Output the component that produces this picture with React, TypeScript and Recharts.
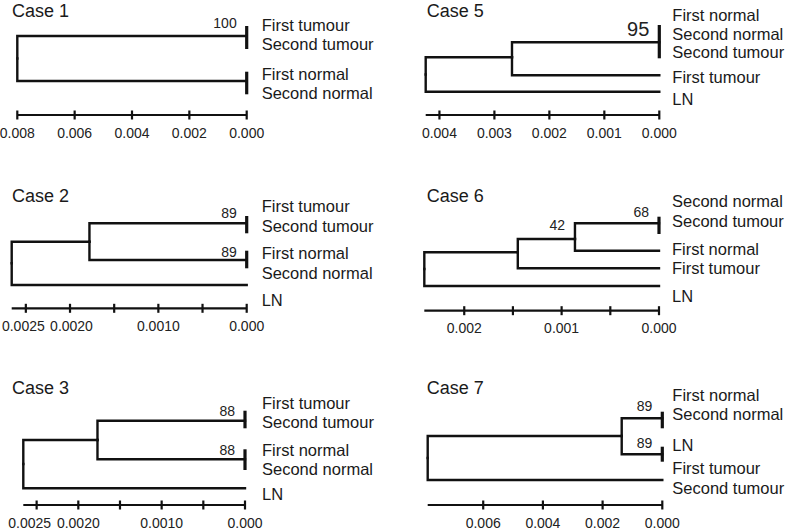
import React from 'react';
import { ComposedChart, Line, Scatter, XAxis, YAxis } from 'recharts';

type TreeNode = { id: string; parent?: string; depth: number; y: number; bar?: [number, number] };
type Leaf = { name: string; y: number };
type Support = { value: string; depth: number; y: number };

// ---------- Case 1 ----------
const case1Nodes: TreeNode[] = [
  { id: 'root', depth: 0.008, y: 58.5 },
  { id: 'tumour', parent: 'root', depth: 0, y: 36, bar: [26, 49] },
  { id: 'normal', parent: 'root', depth: 0, y: 81, bar: [71.7, 94.3] },
];
const case1Leaves: Leaf[] = [
  { name: 'First tumour', y: 25 },
  { name: 'Second tumour', y: 44.3 },
  { name: 'First normal', y: 74 },
  { name: 'Second normal', y: 93.3 },
];
const case1Support: Support[] = [{ value: '100', depth: 0, y: 23.3 }];
const case1Extent = 0.008;
const case1Ticks = [0.008, 0.006, 0.004, 0.002, 0];
const case1TickLabels = ['0.008', '0.006', '0.004', '0.002', '0.000'];

// ---------- Case 2 ----------
const case2Nodes: TreeNode[] = [
  { id: 'root', depth: 0.00266, y: 83.3 },
  { id: 'inner', parent: 'root', depth: 0.00178, y: 61.7 },
  { id: 'tumour', parent: 'inner', depth: 0, y: 43.3, bar: [36, 53.3] },
  { id: 'normal', parent: 'inner', depth: 0, y: 80, bar: [70.7, 88.3] },
  { id: 'ln', parent: 'root', depth: 0, y: 105 },
];
const case2Leaves: Leaf[] = [
  { name: 'First tumour', y: 26.7 },
  { name: 'Second tumour', y: 46.7 },
  { name: 'First normal', y: 73.3 },
  { name: 'Second normal', y: 93.3 },
  { name: 'LN', y: 120 },
];
const case2Support: Support[] = [
  { value: '89', depth: 0, y: 33.3 },
  { value: '89', depth: 0, y: 71.7 },
];
const case2Extent = 0.00266;
const case2Ticks = [0.0025, 0.002, 0.0015, 0.001, 0.0005, 0];
const case2TickLabels = ['0.0025', '0.0020', '', '0.0010', '', '0.000'];

// ---------- Case 3 ----------
const case3Nodes: TreeNode[] = [
  { id: 'root', depth: 0.00266, y: 104 },
  { id: 'inner', parent: 'root', depth: 0.00177, y: 80 },
  { id: 'tumour', parent: 'inner', depth: 0, y: 60.7, bar: [50.7, 68.3] },
  { id: 'normal', parent: 'inner', depth: 0, y: 99.3, bar: [89.3, 110] },
  { id: 'ln', parent: 'root', depth: 0, y: 128.3 },
];
const case3Leaves: Leaf[] = [
  { name: 'First tumour', y: 43.3 },
  { name: 'Second tumour', y: 62.7 },
  { name: 'First normal', y: 90.7 },
  { name: 'Second normal', y: 109.3 },
  { name: 'LN', y: 134 },
];
const case3Support: Support[] = [
  { value: '88', depth: 0, y: 50.7 },
  { value: '88', depth: 0, y: 90 },
];
const case3Extent = 0.00266;
const case3Ticks = [0.0025, 0.002, 0.0015, 0.001, 0.0005, 0];
const case3TickLabels = ['0.0025', '0.0020', '', '0.0010', '', '0.000'];

// ---------- Case 5 ----------
const case5Nodes: TreeNode[] = [
  { id: 'root', depth: 0.00425, y: 74.5 },
  { id: 'inner', parent: 'root', depth: 0.00268, y: 57.3 },
  { id: 'cluster', parent: 'inner', depth: 0, y: 42.3, bar: [25, 58.3] },
  { id: 'firstTumour', parent: 'inner', depth: 0, y: 75.3 },
  { id: 'ln', parent: 'root', depth: 0, y: 91.7 },
];
const case5Leaves: Leaf[] = [
  { name: 'First normal', y: 15 },
  { name: 'Second normal', y: 34 },
  { name: 'Second tumour', y: 52.7 },
  { name: 'First tumour', y: 77.3 },
  { name: 'LN', y: 99.3 },
];
const case5Support: Support[] = [{ value: '95', depth: 0, y: 29 }];
const case5Extent = 0.00425;
const case5Ticks = [0.004, 0.003, 0.002, 0.001, 0];
const case5TickLabels = ['0.004', '0.003', '0.002', '0.001', '0.000'];

// ---------- Case 6 ----------
const case6Nodes: TreeNode[] = [
  { id: 'root', depth: 0.00241, y: 89 },
  { id: 'a', parent: 'root', depth: 0.00145, y: 72.3 },
  { id: 'b', parent: 'a', depth: 0.000863, y: 59 },
  { id: 'cluster', parent: 'b', depth: 0, y: 43.3, bar: [36.7, 54] },
  { id: 'firstNormal', parent: 'b', depth: 0, y: 70.7 },
  { id: 'firstTumour', parent: 'a', depth: 0, y: 88.3 },
  { id: 'ln', parent: 'root', depth: 0, y: 106 },
];
const case6Leaves: Leaf[] = [
  { name: 'Second normal', y: 21.7 },
  { name: 'Second tumour', y: 41.7 },
  { name: 'First normal', y: 69.3 },
  { name: 'First tumour', y: 88.3 },
  { name: 'LN', y: 116.7 },
];
const case6Support: Support[] = [
  { value: '68', depth: 0, y: 32.3 },
  { value: '42', depth: 0.000863, y: 45 },
];
const case6Extent = 0.00241;
const case6Ticks = [0.002, 0.0015, 0.001, 0.0005, 0];
const case6TickLabels = ['0.002', '', '0.001', '', '0.000'];

// ---------- Case 7 ----------
const case7Nodes: TreeNode[] = [
  { id: 'root', depth: 0.00786, y: 98 },
  { id: 'inner', parent: 'root', depth: 0.00136, y: 76 },
  { id: 'normal', parent: 'inner', depth: 0, y: 58.3, bar: [51.7, 68.3] },
  { id: 'lnCluster', parent: 'inner', depth: 0, y: 94.3, bar: [86.7, 101.7] },
  { id: 'tumour', parent: 'root', depth: 0, y: 120 },
];
const case7Leaves: Leaf[] = [
  { name: 'First normal', y: 35 },
  { name: 'Second normal', y: 54.3 },
  { name: 'LN', y: 85 },
  { name: 'First tumour', y: 108.3 },
  { name: 'Second tumour', y: 128.3 },
];
const case7Support: Support[] = [
  { value: '89', depth: 0, y: 45.7 },
  { value: '89', depth: 0, y: 83.3 },
];
const case7Extent = 0.00786;
const case7Ticks = [0.006, 0.004, 0.002, 0];
const case7TickLabels = ['0.006', '0.004', '0.002', '0.000'];

// ---------- layout (pixels) ----------
const FONT = '"Liberation Sans", Arial, Helvetica, sans-serif';
const INK = '#111';

type Layout = {
  left: number; top: number; plotLeft: number; plotRight: number; axisY: number;
  labelGap: number; titleX: number; titleY: number; supportSize: number; tickShift: number[];
};

const PANELS: {
  title: string; nodes: TreeNode[]; leaves: Leaf[]; support: Support[];
  extent: number; ticks: number[]; tickLabels: string[]; layout: Layout;
}[] = [
  { title: 'Case 1', nodes: case1Nodes, leaves: case1Leaves, support: case1Support, extent: case1Extent, ticks: case1Ticks, tickLabels: case1TickLabels,
    layout: { left: 0, top: 0, plotLeft: 17.3, plotRight: 246.7, axisY: 115, labelGap: 15, titleX: 12, titleY: 16.7, supportSize: 14, tickShift: [] } },
  { title: 'Case 2', nodes: case2Nodes, leaves: case2Leaves, support: case2Support, extent: case2Extent, ticks: case2Ticks, tickLabels: case2TickLabels,
    layout: { left: 0, top: 180, plotLeft: 11.7, plotRight: 246.7, axisY: 308.3, labelGap: 15, titleX: 12, titleY: 201.7, supportSize: 14, tickShift: [-2.5, 1.5] } },
  { title: 'Case 3', nodes: case3Nodes, leaves: case3Leaves, support: case3Support, extent: case3Extent, ticks: case3Ticks, tickLabels: case3TickLabels,
    layout: { left: 0, top: 360, plotLeft: 23.3, plotRight: 245, axisY: 505, labelGap: 17, titleX: 12, titleY: 394.3, supportSize: 14, tickShift: [-7, 0] } },
  { title: 'Case 5', nodes: case5Nodes, leaves: case5Leaves, support: case5Support, extent: case5Extent, ticks: case5Ticks, tickLabels: case5TickLabels,
    layout: { left: 395, top: 0, plotLeft: 425.7, plotRight: 659.3, axisY: 115, labelGap: 13, titleX: 426.7, titleY: 16.7, supportSize: 20, tickShift: [] } },
  { title: 'Case 6', nodes: case6Nodes, leaves: case6Leaves, support: case6Support, extent: case6Extent, ticks: case6Ticks, tickLabels: case6TickLabels,
    layout: { left: 395, top: 180, plotLeft: 424.3, plotRight: 659, axisY: 310.7, labelGap: 13, titleX: 426.7, titleY: 201.7, supportSize: 14, tickShift: [] } },
  { title: 'Case 7', nodes: case7Nodes, leaves: case7Leaves, support: case7Support, extent: case7Extent, ticks: case7Ticks, tickLabels: case7TickLabels,
    layout: { left: 395, top: 360, plotLeft: 427.7, plotRight: 662.3, axisY: 505, labelGap: 10, titleX: 426.7, titleY: 394.3, supportSize: 14, tickShift: [] } },
];

const CHART_W = 390;
const AXIS_H = 26;

function TreePanel(props: (typeof PANELS)[number]) {
  const { nodes, leaves, support, extent, ticks, tickLabels, layout } = props;
  const byId: Record<string, TreeNode> = {};
  nodes.forEach((n) => { byId[n.id] = n; });

  const branches = nodes
    .filter((n) => n.parent)
    .map((n) => {
      const p = byId[n.parent as string];
      return {
        key: 'br-' + n.id,
        points: [
          { x: p.depth, y: p.y },
          { x: p.depth, y: n.y },
          { x: n.depth, y: n.y },
        ],
      };
    });
  const bars = nodes
    .filter((n) => n.bar)
    .map((n) => ({
      key: 'bar-' + n.id,
      points: [
        { x: n.depth, y: (n.bar as [number, number])[0] },
        { x: n.depth, y: (n.bar as [number, number])[1] },
      ],
    }));

  const plotH = layout.axisY - layout.top;
  const leafData = leaves.map((l) => ({ x: 0, y: l.y, name: l.name }));
  const supportData = support.map((s) => ({ x: s.depth, y: s.y, name: s.value }));

  const renderTick = (p: any) => {
    const v = p.payload ? p.payload.value : 0;
    const idx = ticks.findIndex((t) => Math.abs(t - v) < 1e-12);
    const label = idx >= 0 ? tickLabels[idx] : '';
    const shift = idx >= 0 && layout.tickShift[idx] ? layout.tickShift[idx] : 0;
    return (
      <g>
        <line x1={p.x} x2={p.x} y1={p.y - 4.5} y2={p.y + 4.5} stroke={INK} strokeWidth={2.2} />
        {label ? (
          <text x={p.x + shift} y={p.y + 22.5} textAnchor="middle" fontSize={14} fontFamily={FONT} fill="#222">
            {label}
          </text>
        ) : null}
      </g>
    );
  };

  return (
    <div style={{ position: 'absolute', left: layout.left, top: layout.top }}>
      <ComposedChart
        width={CHART_W}
        height={plotH + AXIS_H}
        margin={{
          top: 0,
          bottom: 0,
          left: layout.plotLeft - layout.left,
          right: layout.left + CHART_W - layout.plotRight,
        }}
      >
        <XAxis
          type="number"
          dataKey="x"
          domain={[0, extent]}
          reversed
          ticks={ticks}
          interval={0}
          height={AXIS_H}
          tickSize={0}
          tickMargin={0}
          tickLine={false}
          axisLine={{ stroke: INK, strokeWidth: 2.2 }}
          tick={renderTick}
        />
        <YAxis type="number" dataKey="y" domain={[0, plotH]} reversed hide />
        {branches.map((b) => (
          <Line
            key={b.key}
            data={b.points}
            dataKey="y"
            type="linear"
            stroke={INK}
            strokeWidth={2.4}
            dot={false}
            activeDot={false}
            isAnimationActive={false}
            strokeLinejoin="miter"
            strokeLinecap="square"
          />
        ))}
        {bars.map((b) => (
          <Line
            key={b.key}
            data={b.points}
            dataKey="y"
            type="linear"
            stroke={INK}
            strokeWidth={3.2}
            dot={false}
            activeDot={false}
            isAnimationActive={false}
          />
        ))}
        <Scatter
          data={leafData}
          dataKey="y"
          isAnimationActive={false}
          shape={(p: any) => (
            <text
              x={p.cx + layout.labelGap}
              y={p.cy}
              dy="0.35em"
              fontSize={16.5}
              fontFamily={FONT}
              fill="#1a1a1a"
            >
              {p.payload.name}
            </text>
          )}
        />
        <Scatter
          data={supportData}
          dataKey="y"
          isAnimationActive={false}
          shape={(p: any) => (
            <text
              x={p.cx - 10}
              y={p.cy}
              dy="0.35em"
              textAnchor="end"
              fontSize={layout.supportSize}
              fontFamily={FONT}
              fill="#222"
            >
              {p.payload.name}
            </text>
          )}
        />
      </ComposedChart>
    </div>
  );
}

export default function App() {
  return (
    <div
      style={{
        position: 'absolute',
        left: 0,
        top: 0,
        width: 785,
        height: 530,
        background: '#fff',
        overflow: 'hidden',
      }}
    >
      <svg width={785} height={530} style={{ position: 'absolute', left: 0, top: 0 }}>
        {PANELS.map((p) => (
          <text key={p.title} x={p.layout.titleX} y={p.layout.titleY} fontSize={18} fontFamily={FONT} fill="#1a1a1a">
            {p.title}
          </text>
        ))}
      </svg>
      {PANELS.map((p) => (
        <TreePanel key={p.title} {...p} />
      ))}
    </div>
  );
}
